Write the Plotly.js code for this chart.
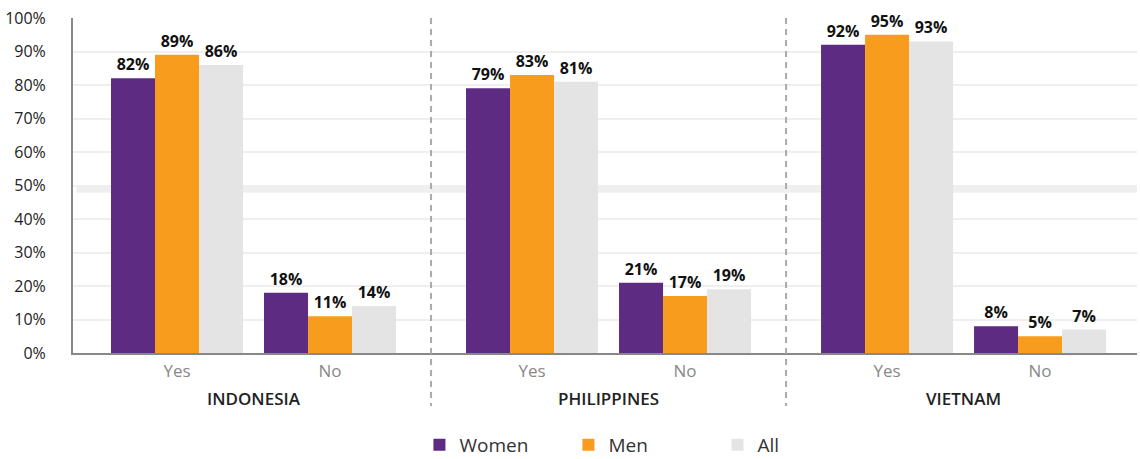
<!DOCTYPE html>
<html>
<head>
<meta charset="utf-8">
<script src="https://cdn.plot.ly/plotly-3.0.1.min.js"></script>
<style>html,body{margin:0;padding:0;background:#fff;}#chart{width:1140px;height:459px;}</style>
</head>
<body>
<div id="chart"></div>
<script>
// Data
const countries = ['INDONESIA', 'PHILIPPINES', 'VIETNAM'];
const answers = ['Yes', 'No'];
const women = [82, 18, 79, 21, 92, 8];
const men = [89, 11, 83, 17, 95, 5];
const allResp = [86, 14, 81, 19, 93, 7];
const seriesNames = ['Women', 'Men', 'All'];
const seriesColors = ['#5E2B83', '#F89C1E', '#E4E4E4'];

// Category positions: country index + answer offset
const answerStep = 0.431;
const xs = [];
const tickText = [];
countries.forEach((c, i) => {
  answers.forEach((a, j) => {
    xs.push(i + j * answerStep);
    tickText.push(a);
  });
});

const font = 'Open Sans, Noto Sans, sans-serif';
const traces = [women, men, allResp].map((vals, k) => ({
  type: 'bar',
  name: seriesNames[k],
  x: xs,
  y: vals,
  text: vals.map(v => v + '%'),
  marker: {color: seriesColors[k]},
  texttemplate: '<b>%{text}</b>',
  textposition: 'outside',
  textfont: {family: font, size: 16, color: '#111'},
  cliponaxis: false,
  hoverinfo: 'skip'
}));

const plotH = 459 - 18 - 106;
const paperY = px => -(px - 353) / plotH;

const shapes = [
  // thicker band near 50%
  {type: 'rect', xref: 'paper', yref: 'y', x0: 0.003, x1: 1, y0: 47.8, y1: 50.1,
   fillcolor: '#efefef', line: {width: 0}, layer: 'below'}
];
for (let i = 0; i < countries.length - 1; i++) {
  const xd = i + (answerStep + 1) / 2;
  shapes.push({type: 'line', xref: 'x', yref: 'paper', x0: xd, x1: xd, y0: 1, y1: paperY(406),
    line: {color: '#aaaaaa', width: 2, dash: '6px,5px'}});
}

const annotations = countries.map((c, i) => ({
  xref: 'x', yref: 'paper', x: i + answerStep / 2, y: paperY(398),
  text: c, showarrow: false, xanchor: 'center', yanchor: 'middle',
  font: {family: font, size: 17, color: '#222', weight: 600}
}));

const layout = {
  width: 1140, height: 459,
  margin: {l: 73, r: 3, t: 18, b: 106, autoexpand: false},
  paper_bgcolor: '#fff', plot_bgcolor: '#fff',
  barmode: 'group', bargap: 0.137, bargroupgap: 0,
  font: {family: font},
  showlegend: true,
  legend: {orientation: 'h', x: 0.3256, xanchor: 'left', y: paperY(445), yanchor: 'middle',
    font: {family: font, size: 19, color: '#333'}, entrywidth: 104, entrywidthmode: 'pixels',
    traceorder: 'normal'},
  xaxis: {
    range: [-0.293, 2.704],
    tickmode: 'array', tickvals: xs, ticktext: tickText,
    showgrid: false, zeroline: false,
    showline: true, linecolor: '#888', linewidth: 2,
    ticks: 'outside', ticklen: 2, tickcolor: 'rgba(0,0,0,0)',
    tickfont: {family: font, size: 17, color: '#888'}
  },
  yaxis: {
    range: [0, 100], dtick: 10, tick0: 0, ticksuffix: '%',
    showgrid: true, gridcolor: '#efefef', gridwidth: 2,
    zeroline: false,
    showline: true, linecolor: '#888', linewidth: 2,
    ticks: 'outside', ticklen: 22, tickcolor: 'rgba(0,0,0,0)',
    tickfont: {family: font, size: 16, color: '#222'}
  },
  shapes: shapes,
  annotations: annotations
};

Plotly.newPlot('chart', traces, layout, {displayModeBar: false, staticPlot: true});
</script>
</body>
</html>
